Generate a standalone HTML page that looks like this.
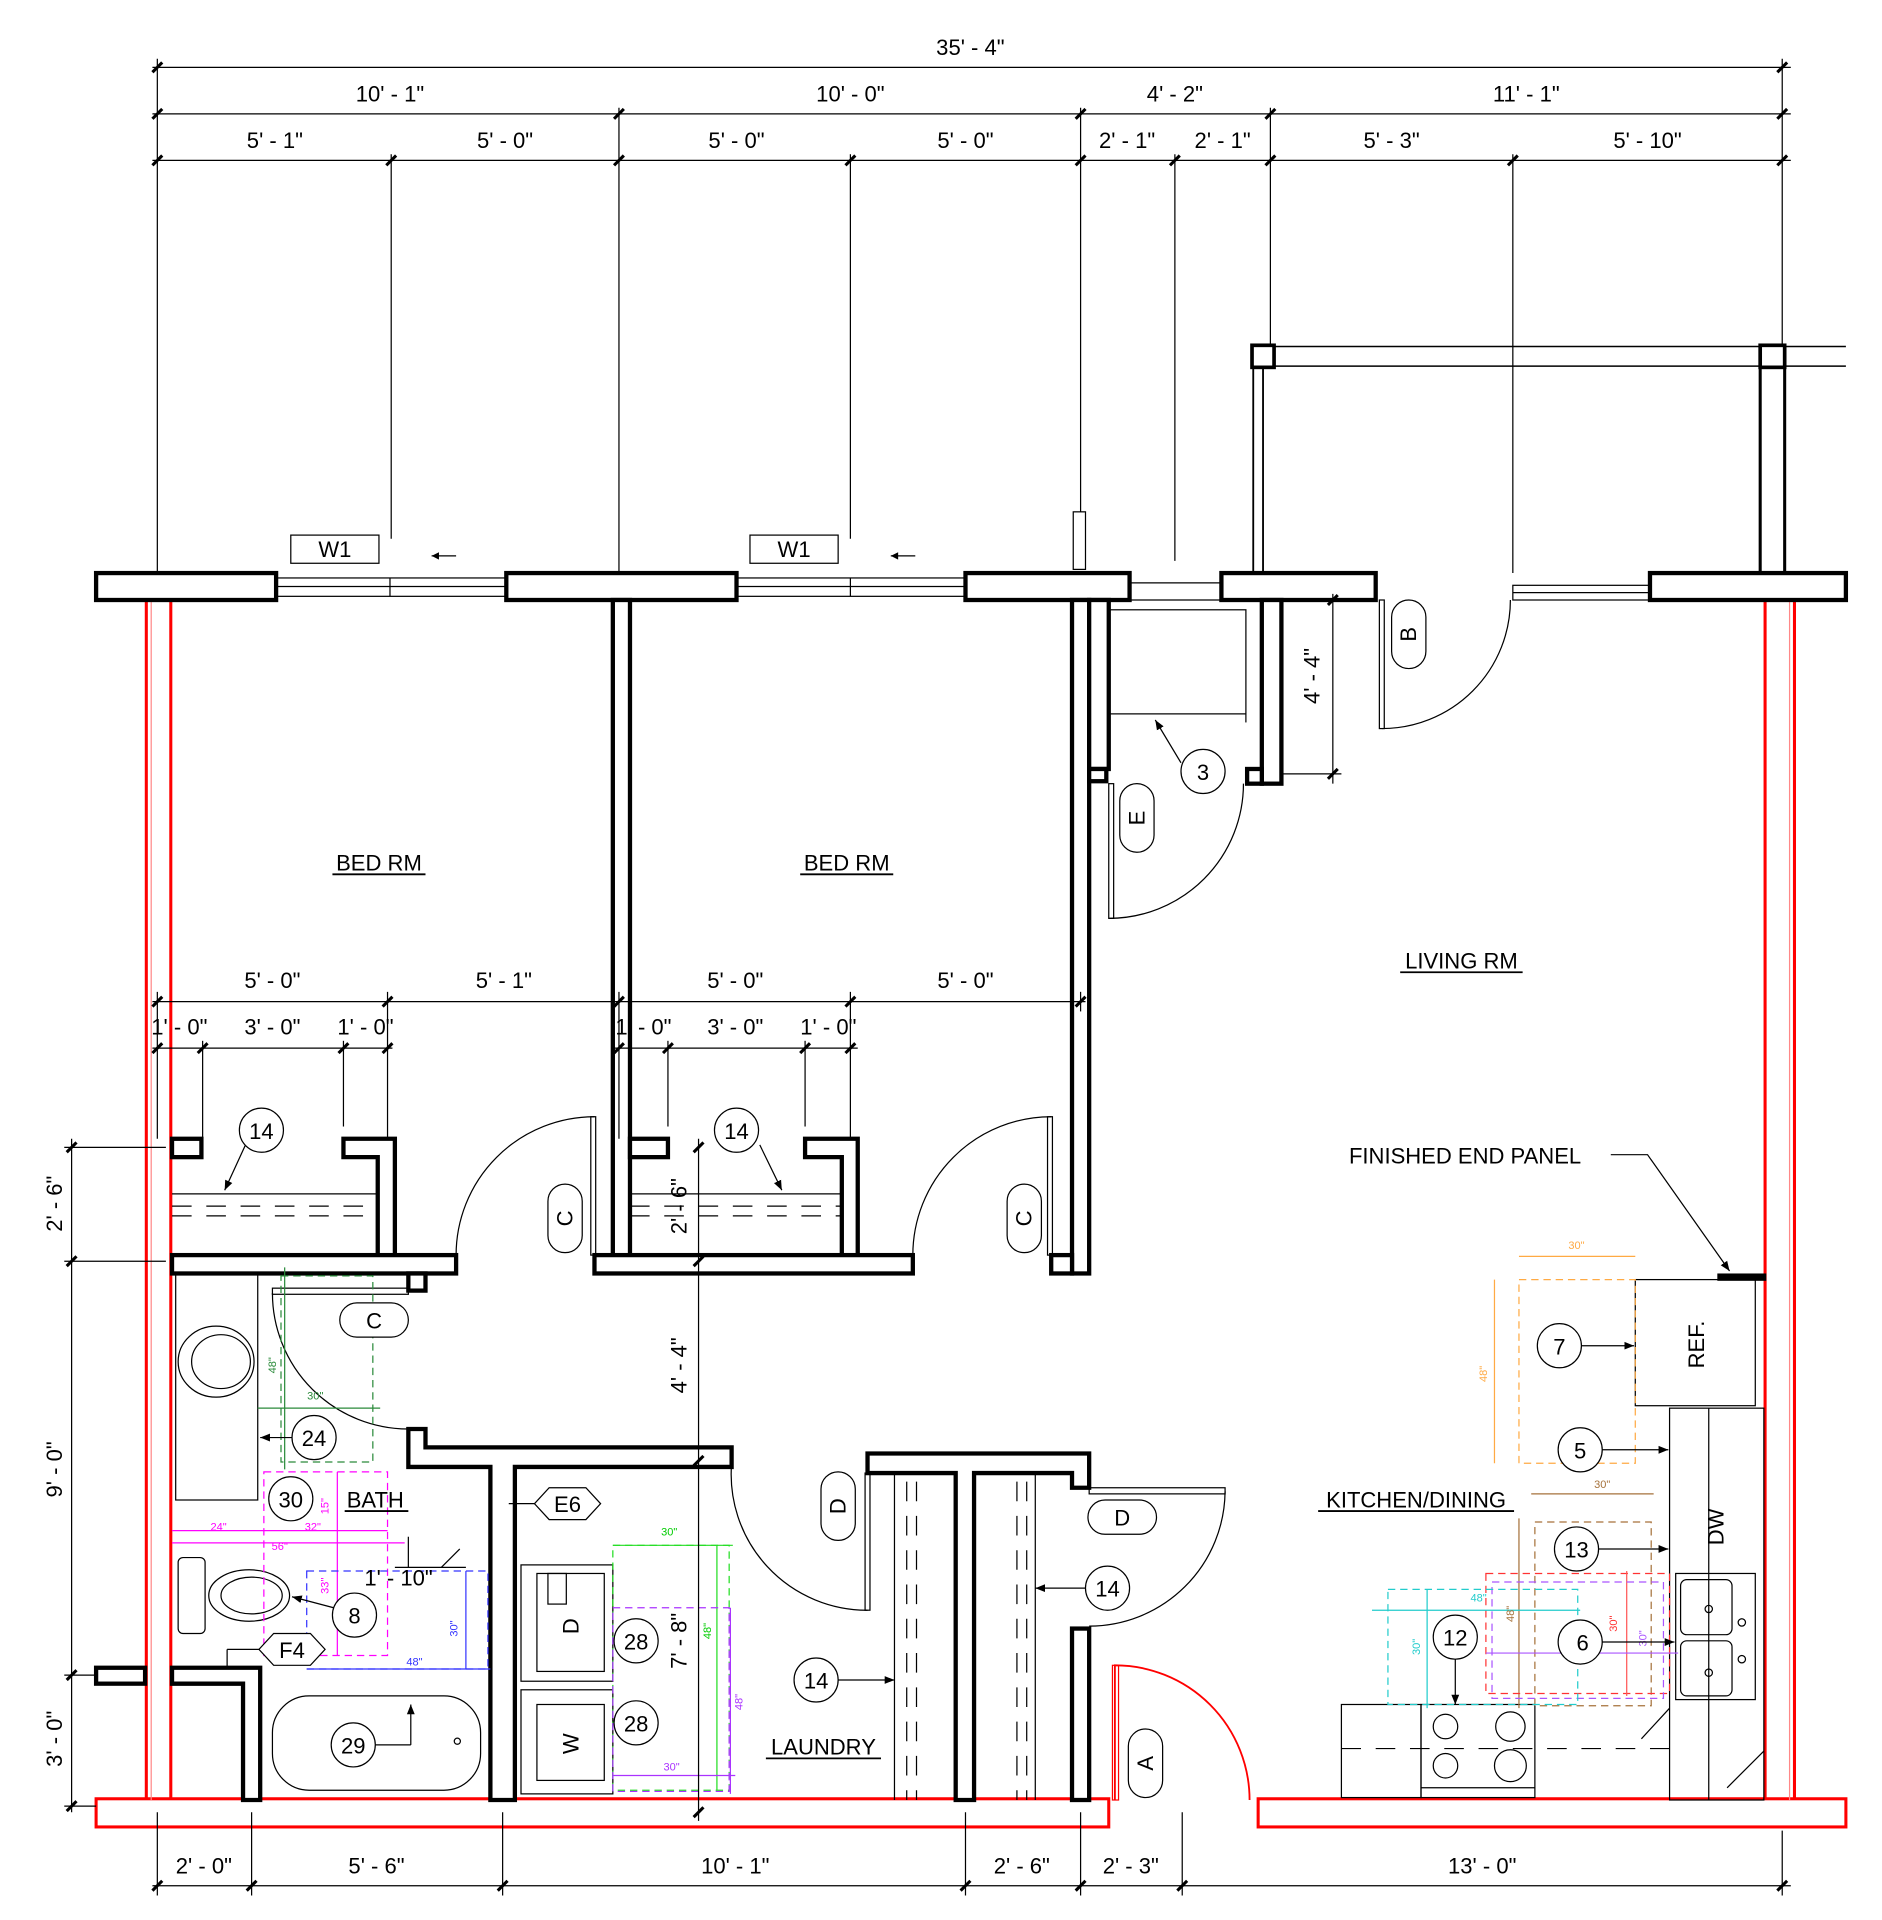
<!DOCTYPE html>
<html><head><meta charset="utf-8"><style>
html,body{margin:0;padding:0;background:#fff}
svg{display:block}
text{font-family:"Liberation Sans",sans-serif;fill:#000}
</style></head><body>
<svg width="1882" height="1920" viewBox="0 0 1536 1568" xmlns="http://www.w3.org/2000/svg">
<defs>
<marker id="ah" viewBox="0 0 10 10" refX="10" refY="5" markerWidth="8" markerHeight="8" orient="auto-start-reverse"><path d="M0,1 L10,5 L0,9 z" fill="#000"/></marker>
</defs>
<rect width="1536" height="1568" fill="#fff"/>

<!-- DIMENSIONS TOP -->
<g stroke="#000" stroke-width="1" fill="none">
<line x1="124" y1="55" x2="1462" y2="55"/>
<line x1="124" y1="93" x2="1462" y2="93"/>
<line x1="124" y1="131" x2="1462" y2="131"/>
<line x1="128" y1="48" x2="128" y2="468"/>
<line x1="319" y1="126" x2="319" y2="440"/>
<line x1="505" y1="88" x2="505" y2="468"/>
<line x1="694" y1="126" x2="694" y2="440"/>
<line x1="882" y1="88" x2="882" y2="418"/>
<line x1="959" y1="126" x2="959" y2="458"/>
<line x1="1037" y1="88" x2="1037" y2="282"/>
<line x1="1235" y1="126" x2="1235" y2="468"/>
<line x1="1455" y1="48" x2="1455" y2="282"/>
</g>
<g stroke="#000" stroke-width="2.5">
<line x1="124" y1="59" x2="132" y2="51"/><line x1="1451" y1="59" x2="1459" y2="51"/>
<line x1="124" y1="97" x2="132" y2="89"/><line x1="501" y1="97" x2="509" y2="89"/><line x1="878" y1="97" x2="886" y2="89"/><line x1="1033" y1="97" x2="1041" y2="89"/><line x1="1451" y1="97" x2="1459" y2="89"/>
<line x1="124" y1="135" x2="132" y2="127"/><line x1="315" y1="135" x2="323" y2="127"/><line x1="501" y1="135" x2="509" y2="127"/><line x1="690" y1="135" x2="698" y2="127"/><line x1="878" y1="135" x2="886" y2="127"/><line x1="955" y1="135" x2="963" y2="127"/><line x1="1033" y1="135" x2="1041" y2="127"/><line x1="1231" y1="135" x2="1239" y2="127"/><line x1="1451" y1="135" x2="1459" y2="127"/>
</g>
<g font-size="18" text-anchor="middle">
<text x="792" y="45">35' - 4"</text>
<text x="318" y="83">10' - 1"</text><text x="694" y="83">10' - 0"</text><text x="959" y="83">4' - 2"</text><text x="1246" y="83">11' - 1"</text>
<text x="224" y="121">5' - 1"</text><text x="412" y="121">5' - 0"</text><text x="601" y="121">5' - 0"</text><text x="788" y="121">5' - 0"</text><text x="920" y="121">2' - 1"</text><text x="998" y="121">2' - 1"</text><text x="1136" y="121">5' - 3"</text><text x="1345" y="121">5' - 10"</text>
</g>

<!-- BALCONY -->
<g stroke="#000" fill="#fff">
<line x1="1040" y1="283" x2="1507" y2="283" stroke-width="1.2"/>
<line x1="1040" y1="299" x2="1507" y2="299" stroke-width="1.2"/>
<line x1="1023" y1="300" x2="1023" y2="468" stroke-width="1.5"/>
<line x1="1031" y1="300" x2="1031" y2="468" stroke-width="1.5"/>
<rect x="1437" y="300" width="20" height="168" stroke-width="2.5"/>
<rect x="1022" y="282" width="18" height="18" stroke-width="3"/>
<rect x="1437" y="282" width="20" height="18" stroke-width="3"/>
</g>

<!-- WINDOWS top -->
<g stroke="#000" stroke-width="1" fill="none">
<rect x="225" y="472" width="188" height="15"/><line x1="225" y1="479" x2="413" y2="479"/><line x1="318" y1="472" x2="318" y2="487"/>
<rect x="601" y="472" width="187" height="15"/><line x1="601" y1="479" x2="788" y2="479"/><line x1="694" y1="472" x2="694" y2="487"/>
<rect x="1235" y="478" width="112" height="12"/><line x1="1235" y1="484" x2="1347" y2="484"/>
<line x1="922" y1="476" x2="997" y2="476"/><line x1="922" y1="490" x2="997" y2="490"/>
<rect x="876" y="418" width="10" height="47"/>
</g>
<g stroke="#000" stroke-width="1" fill="#fff">
<rect x="237" y="437" width="72" height="23"/><rect x="612" y="437" width="72" height="23"/>
</g>
<text x="273" y="455" font-size="18" text-anchor="middle">W1</text>
<text x="648" y="455" font-size="18" text-anchor="middle">W1</text>
<g stroke="#000" stroke-width="1"><line x1="352" y1="454" x2="372" y2="454"/><line x1="727" y1="454" x2="747" y2="454"/></g>
<path d="M352,454 l6,-3 v6z M727,454 l6,-3 v6z" fill="#000"/>

<!-- RED EXTERIOR WALLS -->
<g stroke="#f00" stroke-width="2.5" fill="#fff">
<rect x="119" y="490" width="20" height="980"/>
<rect x="1441" y="490" width="24" height="980"/>
<rect x="78" y="1469" width="827" height="23"/>
<rect x="1027" y="1469" width="480" height="23"/>
</g>
<g stroke="#f88" stroke-width="1"><line x1="123" y1="490" x2="123" y2="1470"/><line x1="1461" y1="490" x2="1461" y2="1470"/></g>

<!-- BLACK WALLS -->
<g stroke="#000" stroke-width="3.5" fill="#fff">
<rect x="78" y="468" width="147" height="22"/>
<rect x="413" y="468" width="188" height="22"/>
<rect x="788" y="468" width="134" height="22"/>
<rect x="997" y="468" width="126" height="22"/>
<rect x="1347" y="468" width="160" height="22"/>
<rect x="500" y="490" width="14" height="540"/>
<rect x="875" y="490" width="14" height="550"/>
<rect x="889" y="490" width="16" height="138"/>
<rect x="1030" y="490" width="16" height="150"/>
<rect x="1018" y="628" width="12" height="12"/>
<rect x="889" y="628" width="14" height="10"/>
<!-- closet 1 -->
<rect x="140" y="930" width="24" height="15"/>
<path d="M280,930 H322 V1025 H308 V945 H280 Z"/>
<rect x="140" y="1025" width="232" height="15"/>
<rect x="333" y="1040" width="14" height="14"/>
<!-- closet 2 -->
<rect x="514" y="930" width="31" height="15"/>
<path d="M657,930 H700 V1025 H687 V945 H657 Z"/>
<rect x="485" y="1025" width="260" height="15"/>
<rect x="858" y="1025" width="17" height="15"/>
<!-- bath/laundry walls -->
<path d="M333,1167 H347 V1182 H597 V1198 H420 V1470 H400 V1198 H347 V1198 H333 Z"/>
<path d="M708,1187 H889 V1215 H875 V1203 H795 V1470 H780 V1203 H708 Z"/>
<rect x="875" y="1330" width="14" height="140"/>
<path d="M140,1362 H212 V1470 H198 V1375 H140 Z"/>
<rect x="78" y="1362" width="40" height="13"/>
</g>

<!-- DOORS -->
<g stroke="#000" stroke-width="1" fill="none">
<rect x="482" y="912" width="4" height="113"/><path d="M485,912 A113,113 0 0 0 372,1025"/>
<rect x="855" y="912" width="4" height="113"/><path d="M858,912 A113,113 0 0 0 745,1025"/>
<rect x="905" y="640" width="4" height="110"/><path d="M905,750 A110,110 0 0 0 1015,640"/>
<rect x="1126" y="490" width="4" height="105"/><path d="M1128,595 A105,105 0 0 0 1233,490"/>
<rect x="222" y="1052" width="111" height="5"/><path d="M222,1056 A111,111 0 0 0 333,1167"/>
<rect x="706" y="1203" width="4" height="112"/><path d="M597,1195 A111,111 0 0 0 708,1315"/>
<rect x="889" y="1215" width="111" height="5"/><path d="M1000,1218 A111,111 0 0 1 889,1328"/>
<rect x="905" y="820" width="0" height="0"/>
<!-- closet 3 shelf -->
<rect x="905" y="498" width="112" height="85"/><line x1="1017" y1="583" x2="1017" y2="590"/>
<!-- closet shelves -->
<line x1="140" y1="975" x2="308" y2="975"/>
<line x1="514" y1="975" x2="687" y2="975"/>
<line x1="730" y1="1203" x2="730" y2="1470"/><line x1="845" y1="1203" x2="845" y2="1470"/>
</g>
<path d="M910,1470 V1360 A110,110 0 0 1 1020,1470" stroke="#f00" stroke-width="1.5" fill="none"/>
<rect x="908" y="1360" width="5" height="110" stroke="#f00" stroke-width="1" fill="none"/>
<g stroke="#000" stroke-width="1" stroke-dasharray="16,12" fill="none">
<line x1="140" y1="985" x2="308" y2="985"/><line x1="140" y1="993" x2="308" y2="993"/>
<line x1="514" y1="985" x2="687" y2="985"/><line x1="514" y1="993" x2="687" y2="993"/>
<line x1="740" y1="1210" x2="740" y2="1470"/><line x1="748" y1="1210" x2="748" y2="1470"/>
<line x1="830" y1="1210" x2="830" y2="1470"/><line x1="838" y1="1210" x2="838" y2="1470"/>
<line x1="1095" y1="1428" x2="1365" y2="1428"/>
</g>

<!-- BATH fixtures -->
<g stroke="#000" stroke-width="1" fill="none">
<rect x="143" y="1040" width="67" height="185"/>
<ellipse cx="176" cy="1112" rx="31" ry="29"/><ellipse cx="180" cy="1112" rx="24" ry="22"/>
<rect x="145" y="1272" width="22" height="62" rx="4"/><ellipse cx="203" cy="1303" rx="33" ry="21"/><ellipse cx="205" cy="1303" rx="25" ry="15"/>
<rect x="222" y="1385" width="170" height="77" rx="30"/>
<circle cx="373" cy="1422" r="2.5"/>
<rect x="425" y="1278" width="75" height="95"/><rect x="438" y="1285" width="55" height="80"/>
<rect x="447" y="1285" width="15" height="25"/>
<rect x="425" y="1380" width="75" height="85"/><rect x="438" y="1392" width="55" height="62"/>
</g>

<!-- KITCHEN -->
<g stroke="#000" stroke-width="1" fill="none">
<rect x="1335" y="1045" width="98" height="103"/>
<rect x="1363" y="1150" width="77" height="320"/>
<rect x="1368" y="1285" width="65" height="103"/>
<rect x="1372" y="1290" width="42" height="45" rx="5"/><rect x="1372" y="1340" width="42" height="45" rx="5"/>
<circle cx="1395" cy="1314" r="3"/><circle cx="1395" cy="1366" r="3"/>
<circle cx="1422" cy="1325" r="3"/><circle cx="1422" cy="1355" r="3"/>
<rect x="1095" y="1392" width="65" height="76"/>
<rect x="1160" y="1392" width="93" height="76"/>
<circle cx="1180" cy="1410" r="10"/><circle cx="1233" cy="1410" r="12"/>
<circle cx="1180" cy="1442" r="10"/><circle cx="1233" cy="1442" r="13"/>
<line x1="1160" y1="1460" x2="1253" y2="1460"/>
<path d="M1395,1150 V1470 M1363,1395 L1340,1420 M1440,1430 L1410,1460"/>
</g>
<rect x="1402" y="1040" width="40" height="6" fill="#000"/>
<polyline points="1315,943 1345,943 1412,1038" stroke="#000" stroke-width="1" fill="none" marker-end="url(#ah)"/>

<!-- COLORED CLEARANCES -->
<g fill="none" stroke-width="1">
<rect x="229" y="1042" width="75" height="152" stroke="#2a8a3a" stroke-dasharray="6,4"/>
<line x1="210" y1="1150" x2="310" y2="1150" stroke="#2a8a3a"/><line x1="232" y1="1035" x2="232" y2="1200" stroke="#2a8a3a"/>
<rect x="215" y="1202" width="101" height="150" stroke="#f0f" stroke-dasharray="6,4"/>
<line x1="140" y1="1250" x2="316" y2="1250" stroke="#f0f"/><line x1="140" y1="1260" x2="330" y2="1260" stroke="#f0f"/>
<line x1="275" y1="1202" x2="275" y2="1352" stroke="#f0f"/>
<rect x="250" y="1283" width="148" height="80" stroke="#33f" stroke-dasharray="6,4"/>
<line x1="250" y1="1363" x2="400" y2="1363" stroke="#33f"/><line x1="380" y1="1283" x2="380" y2="1363" stroke="#33f"/>
<rect x="500" y="1262" width="95" height="200" stroke="#2d2" stroke-dasharray="6,4"/>
<line x1="500" y1="1262" x2="598" y2="1262" stroke="#2d2"/><line x1="585" y1="1262" x2="585" y2="1462" stroke="#2d2"/>
<rect x="500" y="1313" width="95" height="150" stroke="#a3f" stroke-dasharray="6,4"/>
<line x1="500" y1="1450" x2="600" y2="1450" stroke="#a3f"/><line x1="596" y1="1313" x2="596" y2="1465" stroke="#a3f"/>
<rect x="1240" y="1045" width="95" height="150" stroke="#fa4" stroke-dasharray="6,4"/>
<line x1="1240" y1="1026" x2="1335" y2="1026" stroke="#fa4"/><line x1="1220" y1="1045" x2="1220" y2="1195" stroke="#fa4"/>
<rect x="1253" y="1243" width="95" height="150" stroke="#a6723b" stroke-dasharray="6,4"/>
<line x1="1250" y1="1220" x2="1350" y2="1220" stroke="#a6723b"/><line x1="1240" y1="1240" x2="1240" y2="1395" stroke="#a6723b"/>
<rect x="1213" y="1285" width="150" height="98" stroke="#f33" stroke-dasharray="6,4"/>
<line x1="1328" y1="1283" x2="1328" y2="1385" stroke="#f55"/>
<rect x="1218" y="1292" width="140" height="95" stroke="#a5f" stroke-dasharray="6,4"/>
<line x1="1213" y1="1350" x2="1370" y2="1350" stroke="#a5f"/>
<rect x="1133" y="1298" width="155" height="94" stroke="#2cc" stroke-dasharray="6,4"/>
<line x1="1120" y1="1315" x2="1290" y2="1315" stroke="#2cc"/><line x1="1165" y1="1298" x2="1165" y2="1395" stroke="#2cc"/>
</g>
<g font-size="9" text-anchor="middle">
<text x="257" y="1143" fill="#2a8a3a" style="fill:#2a8a3a">30"</text>
<text x="225" y="1115" transform="rotate(-90 225 1115)" style="fill:#2a8a3a">48"</text>
<text x="178" y="1250" style="fill:#f0f">24"</text><text x="255" y="1250" style="fill:#f0f">32"</text><text x="228" y="1266" style="fill:#f0f">56"</text>
<text x="268" y="1230" transform="rotate(-90 268 1230)" style="fill:#f0f">15"</text>
<text x="268" y="1295" transform="rotate(-90 268 1295)" style="fill:#f0f">33"</text>
<text x="338" y="1360" style="fill:#33f">48"</text><text x="373" y="1330" transform="rotate(-90 373 1330)" style="fill:#33f">30"</text>
<text x="546" y="1254" style="fill:#0c0">30"</text><text x="580" y="1332" transform="rotate(-90 580 1332)" style="fill:#0c0">48"</text>
<text x="548" y="1446" style="fill:#a3f">30"</text><text x="606" y="1390" transform="rotate(-90 606 1390)" style="fill:#a3f">48"</text>
<text x="1287" y="1020" style="fill:#fa4">30"</text><text x="1214" y="1122" transform="rotate(-90 1214 1122)" style="fill:#fa4">48"</text>
<text x="1308" y="1215" style="fill:#a6723b">30"</text><text x="1236" y="1318" transform="rotate(-90 1236 1318)" style="fill:#a6723b">48"</text>
<text x="1207" y="1308" style="fill:#2cc">48"</text><text x="1159" y="1345" transform="rotate(-90 1159 1345)" style="fill:#2cc">30"</text>
<text x="1320" y="1326" transform="rotate(-90 1320 1326)" style="fill:#f33">30"</text>
<text x="1281" y="1344" style="fill:#a5f">48"</text><text x="1344" y="1338" transform="rotate(-90 1344 1338)" style="fill:#a5f">30"</text>
</g>

<!-- INTERIOR DIMS -->
<g stroke="#000" stroke-width="1" fill="none">
<line x1="124" y1="818" x2="886" y2="818"/><line x1="124" y1="856" x2="320" y2="856"/><line x1="500" y1="856" x2="700" y2="856"/>
<line x1="128" y1="810" x2="128" y2="930"/><line x1="165" y1="850" x2="165" y2="930"/><line x1="280" y1="850" x2="280" y2="920"/><line x1="316" y1="810" x2="316" y2="930"/>
<line x1="505" y1="810" x2="505" y2="930"/><line x1="545" y1="850" x2="545" y2="920"/><line x1="657" y1="850" x2="657" y2="920"/><line x1="694" y1="810" x2="694" y2="930"/><line x1="882" y1="810" x2="882" y2="826"/>
<line x1="58" y1="930" x2="58" y2="1480"/>
<line x1="52" y1="937" x2="135" y2="937"/><line x1="52" y1="1030" x2="135" y2="1030"/><line x1="52" y1="1368" x2="78" y2="1368"/><line x1="52" y1="1475" x2="78" y2="1475"/>
<line x1="570" y1="930" x2="570" y2="1487"/>
<line x1="124" y1="1540" x2="1462" y2="1540"/>
<line x1="128" y1="1480" x2="128" y2="1548"/><line x1="205" y1="1480" x2="205" y2="1548"/><line x1="410" y1="1480" x2="410" y2="1548"/><line x1="788" y1="1480" x2="788" y2="1548"/><line x1="882" y1="1480" x2="882" y2="1548"/><line x1="965" y1="1480" x2="965" y2="1548"/><line x1="1455" y1="1495" x2="1455" y2="1548"/>
<line x1="1046" y1="490" x2="1095" y2="490"/><line x1="1046" y1="632" x2="1095" y2="632"/><line x1="1088" y1="485" x2="1088" y2="640"/>
<line x1="322" y1="1280" x2="380" y2="1280"/><path d="M360,1280 Q370,1270 375,1265"/><line x1="333" y1="1255" x2="333" y2="1280"/>
<line x1="415" y1="1228" x2="440" y2="1228"/><line x1="185" y1="1347" x2="212" y2="1347"/><line x1="185" y1="1347" x2="185" y2="1362"/>
</g>
<g stroke="#000" stroke-width="2.5">
<line x1="124" y1="822" x2="132" y2="814"/><line x1="312" y1="822" x2="320" y2="814"/><line x1="501" y1="822" x2="509" y2="814"/><line x1="690" y1="822" x2="698" y2="814"/><line x1="878" y1="822" x2="886" y2="814"/>
<line x1="124" y1="860" x2="132" y2="852"/><line x1="161" y1="860" x2="169" y2="852"/><line x1="276" y1="860" x2="284" y2="852"/><line x1="312" y1="860" x2="320" y2="852"/>
<line x1="501" y1="860" x2="509" y2="852"/><line x1="541" y1="860" x2="549" y2="852"/><line x1="653" y1="860" x2="661" y2="852"/><line x1="690" y1="860" x2="698" y2="852"/>
<line x1="54" y1="941" x2="62" y2="933"/><line x1="54" y1="1034" x2="62" y2="1026"/><line x1="54" y1="1372" x2="62" y2="1364"/><line x1="54" y1="1479" x2="62" y2="1471"/>
<line x1="566" y1="941" x2="574" y2="933"/><line x1="566" y1="1034" x2="574" y2="1026"/><line x1="566" y1="1197" x2="574" y2="1189"/><line x1="566" y1="1484" x2="574" y2="1476"/>
<line x1="124" y1="1544" x2="132" y2="1536"/><line x1="201" y1="1544" x2="209" y2="1536"/><line x1="406" y1="1544" x2="414" y2="1536"/><line x1="784" y1="1544" x2="792" y2="1536"/><line x1="878" y1="1544" x2="886" y2="1536"/><line x1="961" y1="1544" x2="969" y2="1536"/><line x1="1451" y1="1544" x2="1459" y2="1536"/>
<line x1="1084" y1="494" x2="1092" y2="486"/><line x1="1084" y1="636" x2="1092" y2="628"/>
</g>
<g font-size="18" text-anchor="middle">
<text x="222" y="807">5' - 0"</text><text x="411" y="807">5' - 1"</text><text x="600" y="807">5' - 0"</text><text x="788" y="807">5' - 0"</text>
<text x="146" y="845">1' - 0"</text><text x="222" y="845">3' - 0"</text><text x="298" y="845">1' - 0"</text>
<text x="525" y="845">1' - 0"</text><text x="600" y="845">3' - 0"</text><text x="676" y="845">1' - 0"</text>
<text x="166" y="1530">2' - 0"</text><text x="307" y="1530">5' - 6"</text><text x="600" y="1530">10' - 1"</text><text x="834" y="1530">2' - 6"</text><text x="923" y="1530">2' - 3"</text><text x="1210" y="1530">13' - 0"</text>
<text x="325" y="1295">1' - 10"</text>
<text x="50" y="983" transform="rotate(-90 50 983)">2' - 6"</text>
<text x="50" y="1200" transform="rotate(-90 50 1200)">9' - 0"</text>
<text x="50" y="1420" transform="rotate(-90 50 1420)">3' - 0"</text>
<text x="560" y="985" transform="rotate(-90 560 985)">2' - 6"</text>
<text x="560" y="1115" transform="rotate(-90 560 1115)">4' - 4"</text>
<text x="560" y="1340" transform="rotate(-90 560 1340)">7' - 8"</text>
<text x="1077" y="552" transform="rotate(-90 1077 552)">4' - 4"</text>
</g>

<!-- ROOM LABELS -->
<g font-size="18" text-anchor="middle">
<text x="309" y="711">BED RM</text><text x="691" y="711">BED RM</text><text x="1193" y="791">LIVING RM</text>
<text x="306" y="1231">BATH</text><text x="672" y="1433">LAUNDRY</text><text x="1156" y="1231">KITCHEN/DINING</text>
<text x="1196" y="950">FINISHED END PANEL</text>
<text x="1391" y="1098" transform="rotate(-90 1391 1098)">REF.</text>
<text x="1407" y="1247" transform="rotate(-90 1407 1247)">DW</text>
<text x="472" y="1328" transform="rotate(-90 472 1328)">D</text>
<text x="472" y="1424" transform="rotate(-90 472 1424)">W</text>
</g>
<g stroke="#000" stroke-width="1.5">
<line x1="271" y1="714" x2="347" y2="714"/><line x1="653" y1="714" x2="729" y2="714"/><line x1="1143" y1="794" x2="1243" y2="794"/>
<line x1="281" y1="1234" x2="333" y2="1234"/><line x1="625" y1="1436" x2="719" y2="1436"/><line x1="1076" y1="1234" x2="1236" y2="1234"/>
</g>

<!-- TAGS -->
<g stroke="#000" stroke-width="1" fill="#fff">
<rect x="447" y="967" width="28" height="56" rx="14"/><rect x="822" y="967" width="28" height="56" rx="14"/>
<rect x="277" y="1064" width="56" height="28" rx="14"/><rect x="914" y="640" width="28" height="56" rx="14"/>
<rect x="1136" y="490" width="28" height="56" rx="14"/><rect x="670" y="1202" width="28" height="56" rx="14"/>
<rect x="888" y="1225" width="56" height="28" rx="14"/><rect x="921" y="1412" width="28" height="56" rx="14"/>
<polygon points="436,1228 448,1215 478,1215 490,1228 478,1241 448,1241"/>
<polygon points="211,1347 223,1334 253,1334 265,1347 253,1360 223,1360"/>
</g>
<g font-size="18" text-anchor="middle">
<text x="467" y="995" transform="rotate(-90 467 995)">C</text>
<text x="842" y="995" transform="rotate(-90 842 995)">C</text>
<text x="305" y="1085">C</text>
<text x="934" y="668" transform="rotate(-90 934 668)">E</text>
<text x="1156" y="518" transform="rotate(-90 1156 518)">B</text>
<text x="690" y="1230" transform="rotate(-90 690 1230)">D</text>
<text x="916" y="1246">D</text>
<text x="941" y="1440" transform="rotate(-90 941 1440)">A</text>
<text x="463" y="1235">E6</text><text x="238" y="1354">F4</text>
</g>

<!-- CALLOUT CIRCLES & ARROWS -->
<g stroke="#000" stroke-width="1" fill="none">
<line x1="964" y1="623" x2="943" y2="588" marker-end="url(#ah)"/>
<line x1="200" y1="935" x2="183" y2="972" marker-end="url(#ah)"/>
<line x1="620" y1="935" x2="638" y2="972" marker-end="url(#ah)"/>
<line x1="238" y1="1174" x2="212" y2="1174" marker-end="url(#ah)"/>
<line x1="272" y1="1313" x2="238" y2="1304" marker-end="url(#ah)"/>
<line x1="306" y1="1425" x2="335" y2="1425"/><line x1="335" y1="1425" x2="335" y2="1392" marker-end="url(#ah)"/>
<line x1="684" y1="1372" x2="730" y2="1372" marker-end="url(#ah)"/>
<line x1="886" y1="1297" x2="845" y2="1297" marker-end="url(#ah)"/>
<line x1="1291" y1="1099" x2="1334" y2="1099" marker-end="url(#ah)"/>
<line x1="1308" y1="1184" x2="1362" y2="1184" marker-end="url(#ah)"/>
<line x1="1305" y1="1265" x2="1362" y2="1265" marker-end="url(#ah)"/>
<line x1="1188" y1="1355" x2="1188" y2="1392" marker-end="url(#ah)"/>
<line x1="1308" y1="1341" x2="1367" y2="1341" marker-end="url(#ah)"/>
</g>
<g stroke="#000" stroke-width="1" fill="#fff">
<circle cx="982" cy="630" r="18"/><circle cx="213" cy="923" r="18"/><circle cx="601" cy="923" r="18"/>
<circle cx="256" cy="1174" r="18"/><circle cx="237" cy="1224" r="18"/><circle cx="289" cy="1319" r="18"/>
<circle cx="519" cy="1340" r="18"/><circle cx="519" cy="1407" r="18"/><circle cx="288" cy="1425" r="18"/>
<circle cx="666" cy="1372" r="18"/><circle cx="904" cy="1297" r="18"/><circle cx="1273" cy="1099" r="18"/>
<circle cx="1290" cy="1184" r="18"/><circle cx="1287" cy="1265" r="18"/><circle cx="1188" cy="1337" r="18"/>
<circle cx="1290" cy="1341" r="18"/>
</g>
<g font-size="18" text-anchor="middle">
<text x="982" y="637">3</text><text x="213" y="930">14</text><text x="601" y="930">14</text>
<text x="256" y="1181">24</text><text x="237" y="1231">30</text><text x="289" y="1326">8</text>
<text x="519" y="1347">28</text><text x="519" y="1414">28</text><text x="288" y="1432">29</text>
<text x="666" y="1379">14</text><text x="904" y="1304">14</text><text x="1273" y="1106">7</text>
<text x="1290" y="1191">5</text><text x="1287" y="1272">13</text><text x="1188" y="1344">12</text>
<text x="1292" y="1348">6</text>
</g>
</svg>
</body></html>
